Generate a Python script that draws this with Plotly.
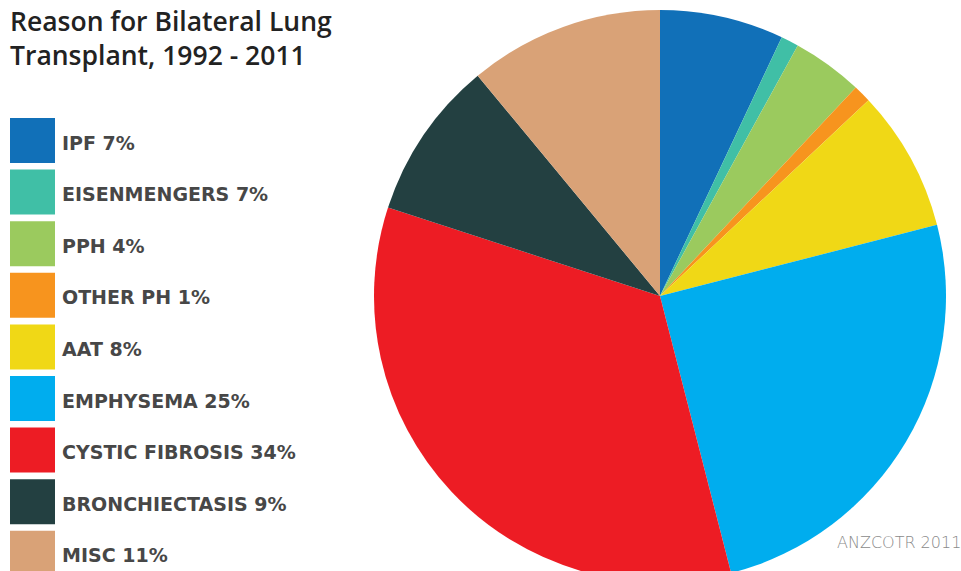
import plotly.graph_objects as go

categories = ["IPF", "EISENMENGERS", "PPH", "OTHER PH", "AAT", "EMPHYSEMA",
              "CYSTIC FIBROSIS", "BRONCHIECTASIS", "MISC"]
slice_values = [7, 1, 4, 1, 8, 25, 34, 9, 11]
legend_pct = ["7%", "7%", "4%", "1%", "8%", "25%", "34%", "9%", "11%"]
colors = ["#1170b8", "#40bfa6", "#9bca5e", "#f7941e", "#f0d816", "#00adee",
          "#ed1c24", "#234041", "#d9a277"]

W, H = 961, 600

def px_x(x):
    return x / W

def px_y(y):
    return 1 - y / H

fig = go.Figure(go.Pie(
    labels=categories,
    values=slice_values,
    marker=dict(colors=colors, line=dict(width=0)),
    sort=False,
    direction="clockwise",
    rotation=0,
    textinfo="none",
    hoverinfo="label+percent",
    showlegend=False,
    domain=dict(x=[px_x(374), px_x(946)], y=[px_y(582), px_y(10)]),
))

shapes = []
annotations = []
top0 = 118
step = 51.6
size = 45
for i, (c, p, col) in enumerate(zip(categories, legend_pct, colors)):
    t = top0 + i * step
    shapes.append(dict(type="rect", xref="paper", yref="paper",
                       x0=px_x(10), x1=px_x(10 + size),
                       y0=px_y(t + size), y1=px_y(t),
                       fillcolor=col, line=dict(width=0)))
    annotations.append(dict(text=f"{c} {p}", xref="paper", yref="paper",
                            x=px_x(60), y=px_y(t + size / 2 + 2),
                            xanchor="left", yanchor="middle", showarrow=False,
                            font=dict(family="DejaVu Sans", size=19, color="#474747", weight="bold")))

annotations.append(dict(text="Reason for Bilateral Lung<br>Transplant, 1992 - 2011",
                        xref="paper", yref="paper", x=px_x(8), y=px_y(1),
                        xanchor="left", yanchor="top", align="left", showarrow=False,
                        font=dict(family="Open Sans", size=26.5, color="#222222", weight=600)))
annotations.append(dict(text="ANZCOTR 2011", xref="paper", yref="paper",
                        x=px_x(963), y=px_y(554), xanchor="right", yanchor="bottom",
                        showarrow=False,
                        font=dict(family="DejaVu Sans", size=16, color="#8a8a8a", weight=200)))

fig.update_layout(width=W, height=H, margin=dict(l=0, r=0, t=0, b=0),
                  paper_bgcolor="white", plot_bgcolor="white",
                  shapes=shapes, annotations=annotations)

fig.write_html("out.html", config={"displayModeBar": False},
               post_script="document.body.style.margin='0';document.body.style.overflow='hidden';")
